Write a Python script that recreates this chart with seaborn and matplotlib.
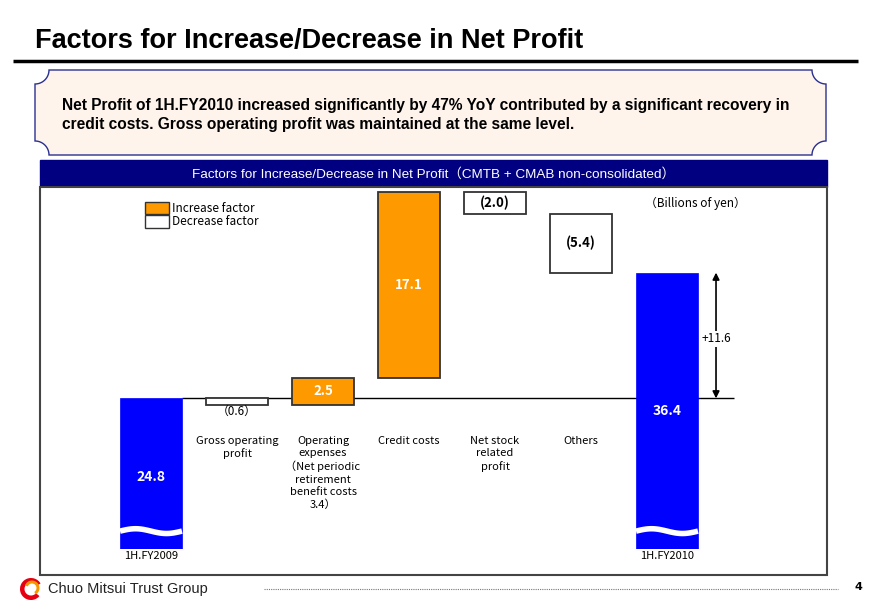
import numpy as np
import pandas as pd
import matplotlib
matplotlib.use("Agg")
import matplotlib.pyplot as plt
import matplotlib.patches as mpatches
import matplotlib.transforms as mtransforms
import seaborn as sns

# ---------------- data ----------------
keys = ["fy2009", "gross", "opex", "credit", "stock", "others", "fy2010"]
tick_labels = ["1H.FY2009", "", "", "", "", "", "1H.FY2010"]
factor_names = ["Gross operating\nprofit",
                "Operating\nexpenses\n（Net periodic\nretirement\nbenefit costs\n3.4）",
                "Credit costs",
                "Net stock\nrelated\nprofit",
                "Others"]
start_value = 24.8
changes = [-0.6, 2.5, 17.1, -2.0, -5.4]
end_value = 36.4
change_text = ["（0.6）", "2.5", "17.1", "(2.0)", "(5.4)"]
diff_text = "+11.6"

# waterfall table
levels = start_value + np.cumsum([0] + changes[:-1])
df = pd.DataFrame({
    "key": keys,
    "height": [start_value] + changes + [end_value],
    "bottom": [0.0] + list(levels) + [0.0],
    "kind": ["total"] + ["up" if c > 0 else "down" for c in changes] + ["total"],
})

BLUE = "#0000ff"
ORANGE = "#ff9900"
NAVY = "#000080"
EDGE = "#333333"
chart_font = ["Noto Sans CJK JP", "DejaVu Sans"]
narrow_font = ["Liberation Sans Narrow", "Liberation Sans", "DejaVu Sans"]

W, H = 880, 609
fig = plt.figure(figsize=(W / 100, H / 100), dpi=100)

# background axes in pixel units for the slide decorations
bg = fig.add_axes([0, 0, 1, 1], zorder=0)
bg.set_xlim(0, W)
bg.set_ylim(H, 0)
bg.axis("off")

# title + rule
bg.text(35, 48, "Factors for Increase/Decrease in Net Profit", fontsize=19.5,
        fontweight="bold", family=narrow_font, va="baseline", ha="left")
bg.plot([13, 858], [61, 61], color="black", lw=2.5, solid_capstyle="butt")

# summary box (plaque shape)
L, R, T, B, r = 35, 826, 70, 155, 14
th = np.linspace(0, np.pi / 2, 20)
pts = []
pts += [(L + r * np.cos(t), T + r * np.sin(t)) for t in th[::-1]]          # top-left
pts += [(R - r * np.cos(t), T + r * np.sin(t)) for t in th]                # top-right
pts += [(R - r * np.cos(t), B - r * np.sin(t)) for t in th[::-1]]          # bottom-right
pts += [(L + r * np.cos(t), B - r * np.sin(t)) for t in th]                # bottom-left
bg.add_patch(mpatches.Polygon(pts, closed=True, facecolor="#fff4ec",
                              edgecolor="#2b2f8f", lw=1.0))
bg.text(62, 110, "Net Profit of 1H.FY2010 increased significantly by 47% YoY contributed by a significant recovery in",
        fontsize=11.2, fontweight="bold", family=narrow_font, va="baseline")
bg.text(62, 129, "credit costs. Gross operating profit was maintained at the same level.",
        fontsize=11.2, fontweight="bold", family=narrow_font, va="baseline")

# header band + chart frame
bg.add_patch(mpatches.Rectangle((40, 160), 787, 27, facecolor=NAVY, edgecolor=NAVY))
bg.text(433, 174, "Factors for Increase/Decrease in Net Profit（CMTB + CMAB non-consolidated）",
        color="white", fontsize=9.7, family=narrow_font + ["Noto Sans CJK JP"],
        ha="center", va="center")
bg.add_patch(mpatches.Rectangle((40, 187), 787, 388, facecolor="white",
                                edgecolor="#444444", lw=1.5))

# footer
bg.add_patch(mpatches.Wedge((31, 589), 11, 40, 330, width=4.5, facecolor="#e60012", edgecolor="none"))
bg.add_patch(mpatches.Wedge((32, 588), 7.5, 200, 420, width=3, facecolor="#f39800", edgecolor="none"))
bg.text(48, 589, "Chuo Mitsui Trust Group", fontsize=10.5, family=narrow_font,
        va="center", ha="left", color="#222222")
bg.plot([264, 838], [589, 589], color="#777777", lw=0.8, ls=(0, (1, 1)))
bg.text(858, 587, "4", fontsize=8, fontweight="bold", ha="center", va="center")

# ---------------- chart ----------------
ax = fig.add_axes([108 / W, 1 - 549 / H, (753 - 108) / W, (549 - 187) / H], zorder=1)
ax.set_facecolor("none")

sns.barplot(data=df, x="key", y="height", order=keys, bottom=df["bottom"].values,
            color=BLUE, saturation=1, errorbar=None, width=0.72, ax=ax)

for bar, kind in zip(ax.patches, df["kind"]):
    if kind == "total":
        bar.set_facecolor(BLUE)
        bar.set_edgecolor(BLUE)
        bar.set_linewidth(0.5)
    elif kind == "up":
        bar.set_facecolor(ORANGE)
        bar.set_edgecolor(EDGE)
        bar.set_linewidth(1.3)
    else:
        bar.set_facecolor("white")
        bar.set_edgecolor(EDGE)
        bar.set_linewidth(1.3)
    bar.set_zorder(2)

ax.set_xlim(-0.5, 7.0)
ax.set_ylim(10.9, 44.3)
ax.set_xlabel("")
ax.set_ylabel("")
ax.set_yticks([])
ax.set_xticks(range(len(keys)))
ax.set_xticklabels(tick_labels, fontsize=8, family=chart_font)
ax.tick_params(axis="x", length=0, pad=1.5)
for s in ax.spines.values():
    s.set_visible(False)

# base line at the starting level
ax.hlines(start_value, 0.36, 6.78, color="black", lw=1.0, zorder=1)

# axis-break waves on the total bars
for i in [0, len(keys) - 1]:
    xs = np.linspace(i - 0.36, i + 0.36, 60)
    ys = 12.55 + 0.22 * np.sin(2 * np.pi * (xs - xs[0]) / 0.72)
    ax.plot(xs, ys, color="white", lw=4, solid_capstyle="butt", zorder=3)

# value labels
blend = mtransforms.blended_transform_factory(ax.transData, ax.transAxes)
ax.text(0, 0.198, f"{start_value}", transform=blend, color="white", fontsize=10,
        fontweight="bold", ha="center", va="center", family=chart_font)
ax.text(6, 0.38, f"{end_value}", transform=blend, color="white", fontsize=10,
        fontweight="bold", ha="center", va="center", family=chart_font)

for j, (ch, txt) in enumerate(zip(changes, change_text)):
    i = j + 1
    b = df["bottom"].iloc[i]
    if abs(ch) < 1:
        ax.text(i, b + ch, txt, ha="center", va="top", fontsize=8.5,
                family=chart_font, zorder=4)
    else:
        ax.text(i, b + ch / 2, txt, ha="center", va="center", fontsize=9.5,
                fontweight="bold", color="white" if ch > 0 else "black",
                family=chart_font, zorder=4)

# factor names under the base line
for j, name in enumerate(factor_names):
    ax.text(j + 1, 0.312, name, transform=blend, ha="center", va="top",
            fontsize=8, linespacing=1.28, family=chart_font)

# total change arrow
ax.annotate("", xy=(6.57, end_value), xytext=(6.57, start_value),
            arrowprops=dict(arrowstyle="<|-|>", color="black", lw=1.2,
                            mutation_scale=10, shrinkA=0, shrinkB=0), zorder=4)
ax.text(6.57, (start_value + end_value) / 2 - 0.3, diff_text, ha="center", va="center",
        fontsize=8.5, family=chart_font, zorder=5,
        bbox=dict(facecolor="white", edgecolor="none", pad=1))

# unit note
ax.text(6.33, 0.955, "（Billions of yen）", transform=blend,
        ha="center", va="center", fontsize=8.5, family=chart_font)

# legend
handles = [mpatches.Patch(facecolor=ORANGE, edgecolor=EDGE, lw=1.0, label="Increase factor"),
           mpatches.Patch(facecolor="white", edgecolor=EDGE, lw=1.0, label="Decrease factor")]
fig.legend(handles=handles, loc="upper left", bbox_to_anchor=(145 / W, 1 - 202 / H),
           frameon=False, handlelength=2.0, handleheight=1.25, labelspacing=0.0,
           handletextpad=0.25, borderpad=0, borderaxespad=0,
           prop={"family": chart_font, "size": 8.5})

fig.savefig("out.png", dpi=100)
